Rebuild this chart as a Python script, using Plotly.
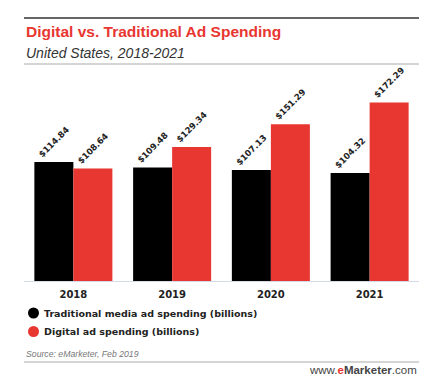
import plotly.graph_objects as go

years = ["2018", "2019", "2020", "2021"]
traditional = [114.84, 109.48, 107.13, 104.32]
digital = [108.64, 129.34, 151.29, 172.29]
series_names = ["Traditional media ad spending (billions)", "Digital ad spending (billions)"]

BLACK = "#000000"
RED = "#e83631"
W, H = 447, 382
L, R, T, B = 24, 28, 80, 101  # plot area x 24..419, y 80..281

def px(x):
    return (x - L) / (W - L - R)

def py(y):
    return (H - B - y) / (H - T - B)

fig = go.Figure()
for name, vals, col in [(series_names[0], traditional, BLACK), (series_names[1], digital, RED)]:
    fig.add_trace(go.Bar(
        x=years, y=vals, name=name, marker=dict(color=col, line=dict(width=0)),
        text=[f"${v:.2f}" for v in vals], textposition="outside", textangle=-45,
        textfont=dict(family="DejaVu Sans", size=10, color="#222222", weight="bold"),
        cliponaxis=False, showlegend=False,
    ))

fig.update_layout(
    width=W, height=H, margin=dict(l=L, r=R, t=T, b=B),
    paper_bgcolor="white", plot_bgcolor="white",
    barmode="group", bargap=0.21, bargroupgap=0,
    showlegend=False,
    xaxis=dict(showgrid=False, showline=True, linecolor="#d6dae6", linewidth=1,
               ticks="outside", ticklen=4, tickcolor="rgba(0,0,0,0)",
               tickfont=dict(family="DejaVu Sans", size=10, color="#222222", weight="bold")),
    yaxis=dict(range=[0, 194], visible=False, showgrid=False, zeroline=False),
)

shapes = [
    dict(type="line", xref="paper", yref="paper", x0=px(24), x1=px(419), y0=py(18), y1=py(18),
         line=dict(color="#333333", width=1.5)),
    dict(type="line", xref="paper", yref="paper", x0=px(24), x1=px(419), y0=py(64), y1=py(64),
         line=dict(color="#aaaaaa", width=1)),
    dict(type="line", xref="paper", yref="paper", x0=px(24), x1=px(419), y0=py(362), y1=py(362),
         line=dict(color="#aaaaaa", width=1)),
]
leg_y = [313, 331.5]
for yy, col in zip(leg_y, [BLACK, RED]):
    shapes.append(dict(type="circle", xref="paper", yref="paper",
                       x0=px(28), x1=px(39), y0=py(yy - 5.5), y1=py(yy + 5.5),
                       fillcolor=col, line=dict(width=0)))
fig.update_layout(shapes=shapes)

ann = [
    dict(text="Digital vs. Traditional Ad Spending", x=px(24), y=py(31.5), xanchor="left", yanchor="middle",
         font=dict(family="Liberation Sans", size=15.5, color=RED, weight="bold")),
    dict(text="<i>United States, 2018-2021</i>", x=px(24), y=py(53), xanchor="left", yanchor="middle",
         font=dict(family="Liberation Sans", size=14, color="#333333")),
    dict(text="<i>Source: eMarketer, Feb 2019</i>", x=px(24), y=py(353.5), xanchor="left", yanchor="middle",
         font=dict(family="Liberation Sans", size=8.7, color="#777777")),
    dict(text="www.<b><span style='color:%s'>e</span>Marketer</b>.com" % RED, x=px(419), y=py(369.5),
         xanchor="right", yanchor="middle",
         font=dict(family="Liberation Sans", size=11.5, color="#444444")),
]
for yy, name in zip(leg_y, series_names):
    ann.append(dict(text="<b>%s</b>" % name, x=px(42), y=py(yy), xanchor="left", yanchor="middle",
                    font=dict(family="DejaVu Sans", size=9.5, color="#222222")))
for a in ann:
    a.update(xref="paper", yref="paper", showarrow=False)
fig.update_layout(annotations=ann)

fig.write_html("out.html", config={"displayModeBar": False},
               post_script="document.body.style.margin='0';document.body.style.overflow='hidden';")
